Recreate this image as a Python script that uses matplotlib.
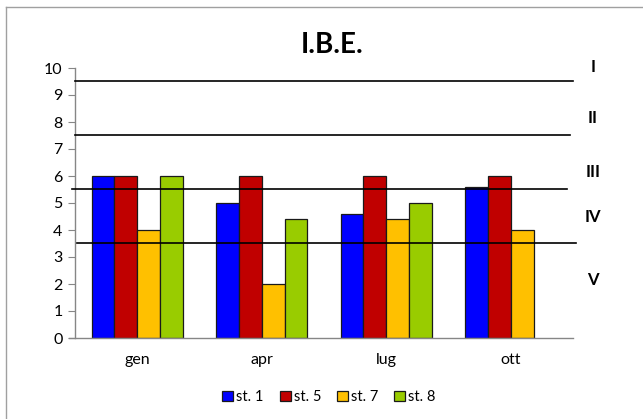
import matplotlib
matplotlib.use("Agg")
import matplotlib.pyplot as plt
from matplotlib.lines import Line2D
import matplotlib.transforms as mtransforms
import numpy as np

plt.rcParams['font.family'] = ['Lato', 'DejaVu Sans']

months = ["gen", "apr", "lug", "ott"]
series_names = ["st. 1", "st. 5", "st. 7", "st. 8"]
st1 = [6.0, 5.0, 4.6, 5.6]
st5 = [6.0, 6.0, 6.0, 6.0]
st7 = [4.0, 2.0, 4.4, 4.0]
st8 = [6.0, 4.4, 5.0, np.nan]
colors = ["#0000FF", "#C00000", "#FFC000", "#99CC00"]

class_limits = [9.5, 7.5, 5.5, 3.5]
class_names = ["I", "II", "III", "IV", "V"]
class_label_y = [10.05, 8.15, 6.15, 4.5, 2.15]
y_ticks = list(range(0, 11))

fig = plt.figure(figsize=(6.43, 4.19), dpi=100)
ax = fig.add_axes([75 / 643, 1 - 338 / 419, 498 / 643, 270 / 419])

x = np.arange(len(months))
width = 0.183
data = [st1, st5, st7, st8]
for i, (vals, c, name) in enumerate(zip(data, colors, series_names)):
    ax.bar(x + (i - 1.5) * width, vals, width, color=c, edgecolor="#1a1a1a",
           linewidth=0.9, label=name, zorder=2)

# class boundaries
spans = [(0.0, 1.0), (0.0, 0.993), (-0.006, 0.987), (0.004, 1.006)]
for lim, (a, b) in zip(class_limits, spans):
    ax.plot([a, b], [lim, lim], transform=ax.get_yaxis_transform(),
            color="black", lw=1.2, zorder=3, clip_on=False)

label_tf = mtransforms.blended_transform_factory(fig.transFigure, ax.transData)
for name, yv in zip(class_names, class_label_y):
    ax.text(593 / 643, yv, name, transform=label_tf,
            ha="center", va="center", fontsize=12, fontweight="bold")

ax.set_xlim(-0.5, len(months) - 0.5)
ax.set_ylim(0, 10)
ax.set_yticks(y_ticks)
ax.set_xticks(x)
ax.set_xticklabels(months, fontsize=11.5)
ax.tick_params(axis="y", labelsize=11.5, length=5, color="#868686", pad=4)
ax.tick_params(axis="x", length=0, pad=11)
for s in ["top", "right"]:
    ax.spines[s].set_visible(False)
for s in ["left", "bottom"]:
    ax.spines[s].set_color("#868686")
    ax.spines[s].set_linewidth(1.0)
ax.spines["bottom"].set_bounds(-0.548, len(months) - 0.5)

fig.text(332 / 643, 1 - 45 / 419, "I.B.E.", ha="center", va="center",
         fontsize=20, fontweight="bold")

leg = ax.legend(loc="center", bbox_to_anchor=(329 / 643, 1 - 397 / 419),
                bbox_transform=fig.transFigure, ncol=4, frameon=False,
                fontsize=10.5, handlelength=0.75, handleheight=0.75,
                handletextpad=0.2, columnspacing=1.1)

# outer chart frame
fig.add_artist(Line2D([6 / 643, 6 / 643], [0, 1 - 7 / 419], transform=fig.transFigure,
                      color="#a0a0a0", lw=1.0))
fig.add_artist(Line2D([6 / 643, 1], [1 - 7 / 419, 1 - 7 / 419], transform=fig.transFigure,
                      color="#a0a0a0", lw=1.0))

fig.savefig("out.png", dpi=100)
